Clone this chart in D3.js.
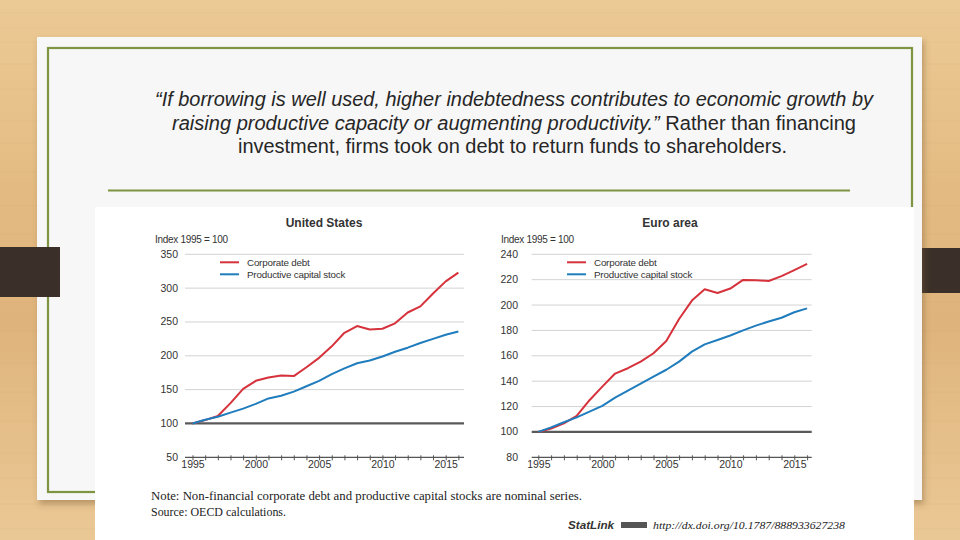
<!DOCTYPE html>
<html><head><meta charset="utf-8">
<script src="https://cdn.jsdelivr.net/npm/d3@7"></script>
<style>html,body{margin:0;padding:0;background:#e3bd86;}svg{display:block;}</style>
</head><body>
<script>
// ---- data ----
const years = [1995,1996,1997,1998,1999,2000,2001,2002,2003,2004,2005,2006,2007,2008,2009,2010,2011,2012,2013,2014,2015,2016];
const usDebt    = [100,105,111,130,151,163,168,171,170,183,197,214,234,244,239,240,248,264,273,292,310,323];
const usCapital = [100,105.5,110,116,122,129,137,141,147,155,163,173,181.5,189,193,199,206,212,219,225,231,236];
const euDebt    = [100,102.6,106.8,112.6,125,135.7,146,150.2,155.4,162,171.7,189,203.5,212.4,209.5,213,219.8,219.5,219,222.8,227.5,232.4];
const euCapital = [100,103.6,107.6,111.5,116,120.5,127,132.5,138,143.6,149,155.4,163.3,169,172.5,176,180,183.8,187,190,194.3,197.4];
const usTicks = [50,100,150,200,250,300,350];
const euTicks = [80,100,120,140,160,180,200,220,240];
const xLabelYears = [1995,2000,2005,2010,2015];
const seriesNames = ["Corporate debt","Productive capital stock"];
const seriesColors = ["#d6323b","#1f7cbd"];
const panelTitles = ["United States","Euro area"];
const yLabel = "Index 1995 = 100";
const quoteLines = [
  [{t:"“If borrowing is well used, higher indebtedness contributes to economic growth by", i:true}],
  [{t:"raising productive capacity or augmenting productivity.”", i:true},{t:" Rather than financing", i:false}],
  [{t:"investment, firms took on debt to return funds to shareholders.", i:false}]
];
const noteText = "Note:  Non-financial corporate debt and productive capital stocks are nominal series.";
const sourceText = "Source:  OECD calculations.";
const statUrl = "http://dx.doi.org/10.1787/888933627238";

const W=960,H=540;
const svg=d3.select("body").append("svg").attr("width",W).attr("height",H);
const defs=svg.append("defs");
const g1=defs.append("linearGradient").attr("id","wood").attr("x1",0).attr("y1",0).attr("x2",0).attr("y2",1);
[["0%","#ecca95"],["35%","#e3bb82"],["60%","#dfb47c"],["100%","#eac895"]].forEach(s=>g1.append("stop").attr("offset",s[0]).attr("stop-color",s[1]));
const f=defs.append("filter").attr("id","sh").attr("x","-5%").attr("y","-5%").attr("width","110%").attr("height","115%");
f.append("feDropShadow").attr("dx",2).attr("dy",4).attr("stdDeviation",3).attr("flood-color","#7a5a30").attr("flood-opacity",0.45);

svg.append("rect").attr("width",W).attr("height",H).attr("fill","url(#wood)");
const streaks=[12,27,41,63,88,120,142,171,205,233,266,301,330,362,391,420,452,477,503,528];
svg.selectAll("rect.st").data(streaks).enter().append("rect").attr("class","st")
  .attr("x",0).attr("width",W).attr("y",d=>d).attr("height",2).attr("fill","#c99a5e").attr("opacity",0.05);

// dark tabs
svg.append("rect").attr("x",914).attr("y",248).attr("width",46).attr("height",45).attr("fill","#3b3029");

// slide panel
svg.append("rect").attr("x",37).attr("y",37).attr("width",885).attr("height",463).attr("fill","#f7f7f7").attr("filter","url(#sh)");
svg.append("rect").attr("x",48).attr("y",48).attr("width",864).attr("height",444).attr("fill","none").attr("stroke","#7f9441").attr("stroke-width",2.2);
svg.append("line").attr("x1",108).attr("x2",850).attr("y1",190.5).attr("y2",190.5).attr("stroke","#7f9441").attr("stroke-width",2.2);
svg.append("rect").attr("x",0).attr("y",247).attr("width",60).attr("height",50).attr("fill","#3b3029");

// quote
const qy=[106,130,153];
const qx=[[155,873],[172,856],[238,787]];
quoteLines.forEach((ln,i)=>{
  const t=svg.append("text").attr("x",qx[i][0]).attr("y",qy[i])
    .attr("font-family","'Liberation Sans Narrow','Liberation Sans',Arial,sans-serif").attr("font-size",20).attr("fill","#262626")
    .attr("textLength",qx[i][1]-qx[i][0]).attr("lengthAdjust","spacingAndGlyphs");
  ln.forEach(p=>t.append("tspan").text(p.t).attr("font-style",p.i?"italic":"normal"));
});

// chart image
svg.append("rect").attr("x",95).attr("y",207).attr("width",819).attr("height",333).attr("fill","#ffffff");

const sans="'Liberation Sans',Arial,Helvetica,sans-serif";
const panels=[
  {title:panelTitles[0],titleX:324,idxX:155,ticks:usTicks,debt:usDebt,cap:usCapital,
   x:d3.scaleLinear().domain([1995,2015]).range([192.5,445.7]),
   y:d3.scaleLinear().domain([50,350]).range([457.3,254.3]),xl:185,xr:464,tickR:178,legX:220},
  {title:panelTitles[1],titleX:670,idxX:501,ticks:euTicks,debt:euDebt,cap:euCapital,
   x:d3.scaleLinear().domain([1995,2015]).range([538.3,794.3]),
   y:d3.scaleLinear().domain([80,240]).range([457.3,254.3]),xl:531.7,xr:811.7,tickR:518,legX:567}
];
panels.forEach(p=>{
  const g=svg.append("g");
  g.append("text").attr("x",p.titleX).attr("y",227).attr("text-anchor","middle").attr("font-family",sans)
    .attr("font-weight","bold").attr("font-size",12).attr("fill","#333").text(p.title);
  g.append("text").attr("x",p.idxX).attr("y",243).attr("font-family",sans).attr("font-size",10).attr("fill","#333").attr("letter-spacing",-0.3).text(yLabel);
  const lo=p.y.domain()[0];
  g.selectAll("line.grid").data(p.ticks.filter(v=>v!==lo && v!==100)).enter().append("line")
    .attr("x1",p.xl).attr("x2",p.xr).attr("y1",d=>p.y(d)).attr("y2",d=>p.y(d)).attr("stroke","#d3d3d3").attr("stroke-width",1);
  g.selectAll("text.yt").data(p.ticks).enter().append("text")
    .attr("x",p.tickR).attr("y",d=>p.y(d)+3.5).attr("text-anchor","end").attr("font-family",sans).attr("font-size",10.5).attr("fill","#333").text(d=>d);
  g.append("line").attr("x1",p.xl).attr("x2",p.xr).attr("y1",p.y(100)).attr("y2",p.y(100)).attr("stroke","#5a5a5a").attr("stroke-width",2.2);
  const ax=d3.axisBottom(p.x).tickValues(years).tickSize(3).tickFormat(d=>xLabelYears.includes(d)?d:"");
  const ag=g.append("g").attr("transform",`translate(0,${p.y(lo)})`).call(ax);
  ag.select(".domain").remove();
  ag.selectAll(".tick line").attr("stroke","#555").attr("y1",-2);
  ag.selectAll(".tick text").attr("font-family",sans).attr("font-size",10.5).attr("fill","#333").attr("dy","0.45em");
  g.append("line").attr("x1",p.xl).attr("x2",p.xr).attr("y1",p.y(lo)).attr("y2",p.y(lo)).attr("stroke","#555").attr("stroke-width",1.2);
  const line=d3.line().x((d,i)=>p.x(years[i])).y(d=>p.y(d));
  [p.debt,p.cap].forEach((s,k)=>{
    g.append("path").datum(s).attr("d",line).attr("fill","none").attr("stroke",seriesColors[k]).attr("stroke-width",2).attr("stroke-linejoin","round");
  });
  seriesNames.forEach((n,k)=>{
    const ly=262.3+k*12;
    g.append("line").attr("x1",p.legX).attr("x2",p.legX+19).attr("y1",ly).attr("y2",ly).attr("stroke",seriesColors[k]).attr("stroke-width",2);
    g.append("text").attr("x",p.legX+27).attr("y",ly+3.5).attr("font-family",sans).attr("font-size",9.8).attr("fill","#333").attr("letter-spacing",-0.2).text(n);
  });
});

const serif="'Liberation Serif','Times New Roman',serif";
svg.append("text").attr("x",151).attr("y",500).attr("font-family",serif).attr("font-size",11.5).attr("fill","#222")
  .attr("textLength",431).attr("lengthAdjust","spacingAndGlyphs").text(noteText);
svg.append("text").attr("x",151).attr("y",516).attr("font-family",serif).attr("font-size",11.5).attr("fill","#222")
  .attr("textLength",135).attr("lengthAdjust","spacingAndGlyphs").text(sourceText);
svg.append("text").attr("x",568).attr("y",529).attr("font-family",sans).attr("font-style","italic").attr("font-weight","bold")
  .attr("font-size",10).attr("fill","#333").attr("textLength",46).attr("lengthAdjust","spacingAndGlyphs").text("StatLink");
svg.append("rect").attr("x",621).attr("y",522).attr("width",26).attr("height",6).attr("fill","#555");
svg.append("text").attr("x",653).attr("y",529).attr("font-family",serif).attr("font-style","italic")
  .attr("font-size",11).attr("fill","#222").attr("textLength",192).attr("lengthAdjust","spacingAndGlyphs").text(statUrl);
</script>
</body></html>
